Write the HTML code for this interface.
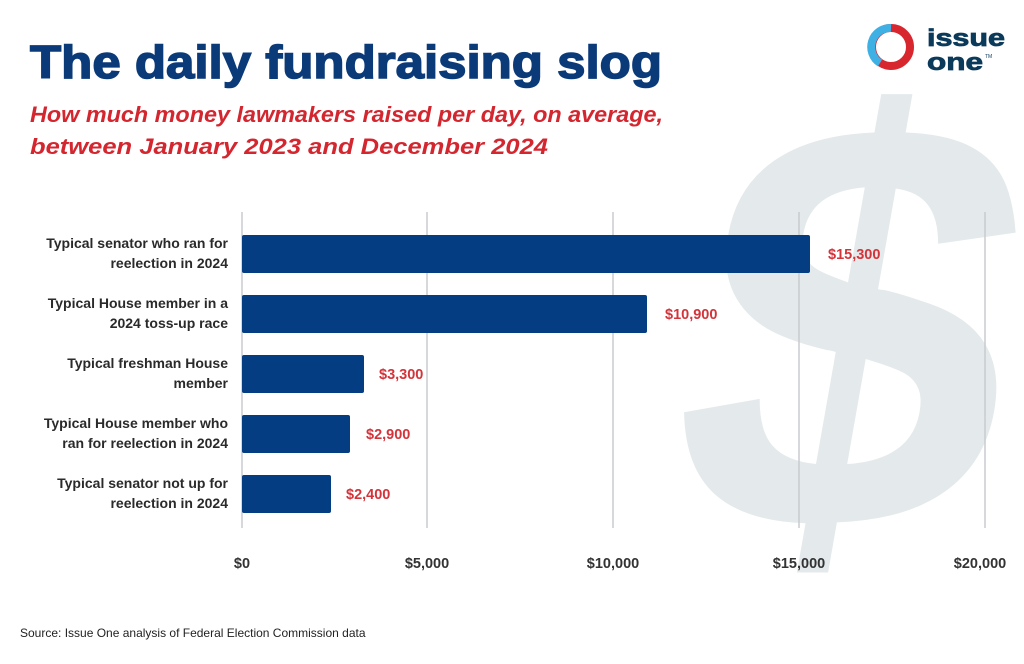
<!DOCTYPE html>
<html><head><meta charset="utf-8"><style>html,body{margin:0;padding:0;background:#fff}</style></head>
<body>
<svg width="1024" height="659" viewBox="0 0 1024 659" xmlns="http://www.w3.org/2000/svg" font-family="Liberation Sans, sans-serif">
<rect width="1024" height="659" fill="#fff"/>
<text x="848" y="529" font-size="586" font-weight="bold" fill="#e4e9eb" text-anchor="middle" transform="skewX(-10) translate(64,0)">$</text>
<g stroke="#c8cccf" stroke-width="1.5">
<line x1="242" y1="212" x2="242" y2="528"/>
<line x1="427" y1="212" x2="427" y2="528"/>
<line x1="613" y1="212" x2="613" y2="528"/>
<line x1="799" y1="212" x2="799" y2="528"/>
<line x1="985" y1="212" x2="985" y2="528"/>
</g>
<text x="30" y="78" font-size="46" font-weight="900" fill="#0b3a79" textLength="632" lengthAdjust="spacingAndGlyphs" stroke="#0b3a79" stroke-width="1.5">The daily fundraising slog</text>
<g font-size="22" font-style="italic" font-weight="bold" fill="#d3262f">
<text x="30" y="122" textLength="633" lengthAdjust="spacingAndGlyphs">How much money lawmakers raised per day, on average,</text>
<text x="30" y="154" textLength="518" lengthAdjust="spacingAndGlyphs">between January 2023 and December 2024</text>
</g>
<g fill="#043d82">
<rect x="242" y="235" width="568" height="38" rx="2"/>
<rect x="242" y="295" width="405" height="38" rx="2"/>
<rect x="242" y="355" width="122" height="38" rx="2"/>
<rect x="242" y="415" width="108" height="38" rx="2"/>
<rect x="242" y="475" width="89" height="38" rx="2"/>
</g>
<g font-size="14.5" font-weight="bold" fill="#d3343a">
<text x="828" y="259">$15,300</text>
<text x="665" y="319">$10,900</text>
<text x="379" y="379">$3,300</text>
<text x="366" y="439">$2,900</text>
<text x="346" y="499">$2,400</text>
</g>
<g font-size="14" font-weight="bold" fill="#2a2a2a" text-anchor="end">
<text x="228" y="248">Typical senator who ran for</text>
<text x="228" y="268">reelection in 2024</text>
<text x="228" y="308">Typical House member in a</text>
<text x="228" y="328">2024 toss-up race</text>
<text x="228" y="368">Typical freshman House</text>
<text x="228" y="388">member</text>
<text x="228" y="428">Typical House member who</text>
<text x="228" y="448">ran for reelection in 2024</text>
<text x="228" y="488">Typical senator not up for</text>
<text x="228" y="508">reelection in 2024</text>
</g>
<g font-size="14.5" font-weight="bold" fill="#333" text-anchor="middle">
<text x="242" y="568">$0</text>
<text x="427" y="568">$5,000</text>
<text x="613" y="568">$10,000</text>
<text x="799" y="568">$15,000</text>
<text x="980" y="568">$20,000</text>
</g>
<text x="20" y="637" font-size="12" fill="#222">Source: Issue One analysis of Federal Election Commission data</text>
<g>
<circle cx="891" cy="47" r="19" fill="none" stroke="#d8262f" stroke-width="8"/>
<path d="M891 28 A19 19 0 0 0 880 63" fill="none" stroke="#3fb0e3" stroke-width="8"/>
<text x="927" y="46" font-size="24" font-weight="bold" fill="#0b3a5a" stroke="#0b3a5a" stroke-width="0.8" textLength="78" lengthAdjust="spacingAndGlyphs">issue</text>
<text x="927" y="70" font-size="24" font-weight="bold" fill="#0b3a5a" stroke="#0b3a5a" stroke-width="0.8" textLength="56" lengthAdjust="spacingAndGlyphs">one</text>
<text x="985" y="58" font-size="5" fill="#0b3a5a">TM</text>
</g>
</svg>
</body></html>
